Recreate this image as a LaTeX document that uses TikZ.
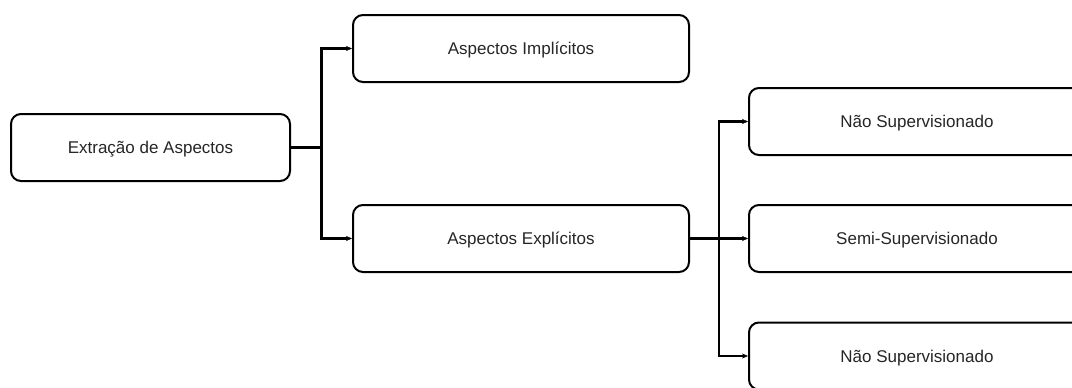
\documentclass[tikz,border=0pt]{standalone}
\usepackage{fontspec}
\setmainfont{Liberation Sans}
\usetikzlibrary{arrows.meta}
\begin{document}
\begin{tikzpicture}[x=1pt,y=-1pt,
  box/.style={draw=black,line width=2pt,rounded corners=10pt,fill=white,
    minimum height=67pt,inner sep=0pt,text height=14pt,text depth=2pt,
    font=\fontsize{17}{20}\selectfont,text=black!85},
  link/.style={line width=2.2pt,black},
  tip/.style={-{Stealth[length=6pt,width=5pt,line width=0.4pt]}}]
\useasboundingbox (0,0) rectangle (1072,388);
\clip (0,0) rectangle (1072,388);
% boxes
\node[box,minimum width=279pt] (ext) at (150.5,147.5) {Extração de Aspectos};
\node[box,minimum width=336pt] (imp) at (521,48.5) {Aspectos Implícitos};
\node[box,minimum width=336pt] (exp) at (521,238.5) {Aspectos Explícitos};
\node[box,minimum width=336pt] (ns1) at (917,121.5) {Não Supervisionado};
\node[box,minimum width=336pt] (semi) at (917,238.5) {Semi-Supervisionado};
\node[box,minimum width=336pt] (ns2) at (917,356) {Não Supervisionado};
% junctions
\coordinate (j1) at (321.5,147.5);
\coordinate (j2) at (719,238.5);
% left tree
\draw[link] (ext.east) -- (j1);
\draw[link,tip] (j1) |- (imp.west);
\draw[link,tip] (j1) |- (exp.west);
% right tree
\draw[link] (exp.east) -- (j2);
\draw[link,tip] (j2) |- (ns1.west);
\draw[link,tip] (j2) -- (semi.west);
\draw[link,tip] (j2) |- (ns2.west);
\end{tikzpicture}
\end{document}
